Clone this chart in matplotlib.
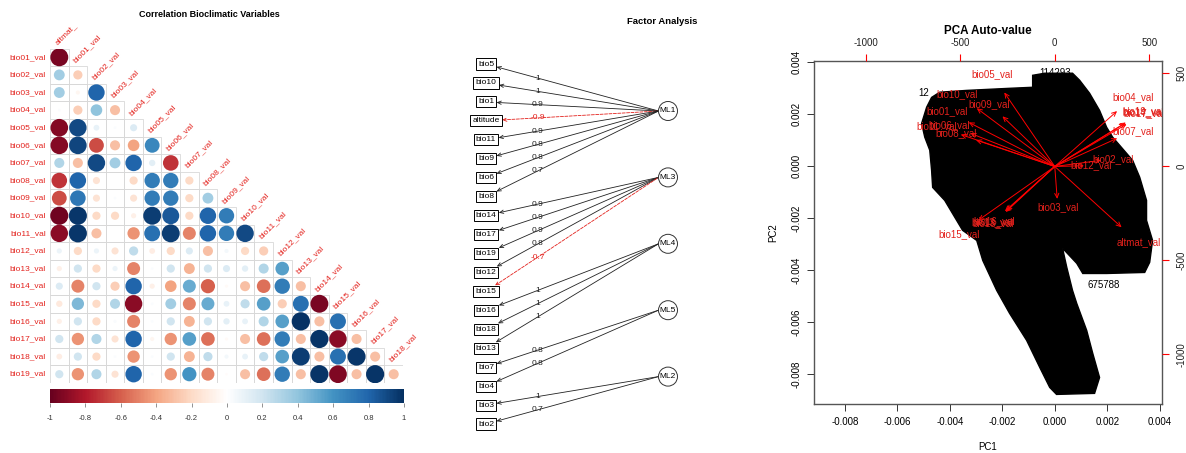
import numpy as np
import matplotlib
matplotlib.use('Agg')
import matplotlib.pyplot as plt
from matplotlib.colors import LinearSegmentedColormap, Normalize
from matplotlib.cm import ScalarMappable
from matplotlib.patches import Rectangle, Circle

plt.rcParams['font.family'] = ['Liberation Sans', 'DejaVu Sans']
plt.rcParams['axes.unicode_minus'] = False

W, H = 1186, 453
RED = '#e3211c'

# ---- correlation plot data (lower triangle, no diagonal) ----
col_labels = ['altmat_'] + ['bio%02d_val' % k for k in range(1, 19)]
row_labels = ['bio%02d_val' % k for k in range(1, 20)]
corr_rows = [
    [-0.95],
    [0.35, -0.25],
    [0.35, -0.05, 0.80],
    [0.02, -0.25, 0.40, -0.30],
    [-0.92, 0.90, 0.10, 0.02, 0.15],
    [-0.92, 0.92, -0.65, -0.30, -0.40, 0.65],
    [0.30, -0.30, 0.90, 0.35, 0.80, 0.12, -0.72],
    [-0.72, 0.80, -0.15, 0.00, -0.20, 0.70, 0.70, -0.20],
    [-0.65, 0.72, -0.15, 0.02, -0.15, 0.70, 0.70, -0.20, 0.35],
    [-0.97, 0.97, -0.20, -0.20, -0.08, 0.95, 0.85, -0.20, 0.80, 0.70],
    [-0.90, 0.97, -0.30, 0.00, -0.45, 0.75, 0.95, -0.50, 0.80, 0.70, 0.90],
    [0.08, -0.20, 0.08, -0.15, 0.25, -0.10, -0.20, 0.15, -0.30, 0.05, -0.20, -0.25],
    [-0.08, 0.20, -0.20, 0.08, -0.50, 0.02, 0.20, -0.35, 0.20, 0.15, 0.12, 0.30, 0.55],
    [0.15, -0.50, 0.20, -0.25, 0.80, -0.08, -0.40, 0.50, -0.60, -0.03, -0.30, -0.55, 0.70, -0.30],
    [-0.12, 0.45, -0.20, 0.30, -0.90, 0.02, 0.35, -0.50, 0.50, 0.10, 0.25, 0.55, -0.25, 0.75, -0.95],
    [-0.08, 0.20, -0.20, 0.03, -0.50, 0.02, 0.20, -0.35, 0.20, 0.12, 0.10, 0.30, 0.55, 0.99, -0.30, 0.75],
    [0.20, -0.45, 0.30, -0.15, 0.80, -0.05, -0.45, 0.55, -0.55, -0.03, -0.30, -0.55, 0.70, -0.30, 0.98, -0.90, -0.30],
    [-0.10, 0.20, -0.20, 0.02, -0.45, 0.02, 0.20, -0.35, 0.25, 0.05, 0.10, 0.25, 0.55, 0.95, -0.30, 0.75, 0.97, -0.30],
    [0.20, -0.45, 0.30, -0.15, 0.80, 0.02, -0.45, 0.60, -0.50, -0.02, -0.30, -0.55, 0.70, -0.30, 0.98, -0.93, -0.30, 0.98, -0.30],
]
col2 = ["#67001F", "#B2182B", "#D6604D", "#F4A582", "#FDDBC7", "#FFFFFF",
        "#D1E5F0", "#92C5DE", "#4393C3", "#2166AC", "#053061"]

# ---- factor analysis data ----
fa_vars = ['bio5', 'bio10', 'bio1', 'altitude', 'bio11', 'bio9', 'bio6', 'bio8',
           'bio14', 'bio17', 'bio19', 'bio12', 'bio15',
           'bio16', 'bio18', 'bio13', 'bio7', 'bio4', 'bio3', 'bio2']
fa_loadings = [1, 1, 0.9, -0.9, 0.9, 0.8, 0.8, 0.7,
               0.9, 0.9, 0.9, 0.8, -0.7,
               1, 1, 1, 0.8, 0.8, 1, 0.7]
fa_factor = ['ML1'] * 8 + ['ML3'] * 5 + ['ML4'] * 3 + ['ML5'] * 2 + ['ML2'] * 2
factors = ['ML1', 'ML3', 'ML4', 'ML5', 'ML2']

# ---- PCA biplot data ----
pca_vars = ['altmat_val', 'bio01_val', 'bio02_val', 'bio03_val', 'bio04_val', 'bio05_val',
            'bio06_val', 'bio07_val', 'bio08_val', 'bio09_val', 'bio10_val', 'bio11_val',
            'bio12_val', 'bio13_val', 'bio14_val', 'bio15_val', 'bio16_val', 'bio17_val',
            'bio18_val', 'bio19_val']
pca_load_x = [442, -569, 307, 16, 412, -334, -558, 413, -521, -346, -516, -622,
              193, -330, 465, -505, -320, 475, -325, 470]
pca_load_y = [-405, 294, 41, -216, 369, 493, 221, 188, 176, 334, 388, 213,
              5, -298, 287, -358, -293, 282, -303, 293]
# outline of the (overplotted) observation cloud
blob_pc1 = [-0.00085, -0.00085, -0.00039, 0.00067, 0.00094, 0.00132, 0.00170, 0.00197,
            0.00220, 0.00296, 0.00323, 0.00349, 0.00349, 0.00372, 0.00361, 0.00342,
            0.00197, 0.00106, 0.00083, 0.00029, 0.00045, 0.00067, 0.00083, 0.00121,
            0.00144, 0.00170, 0.00151, 0.00006, -0.00020, -0.00058, -0.00108, -0.00173,
            -0.00222, -0.00275, -0.00298, -0.00352, -0.00420, -0.00466, -0.00470, -0.00477,
            -0.00496, -0.00508, -0.00489, -0.00470, -0.00439, -0.00336, -0.00173]
blob_pc2 = [0.00304, 0.00350, 0.00358, 0.00358, 0.00331, 0.00281, 0.00215, 0.00150,
            0.00112, 0.00023, -0.00042, -0.00131, -0.00208, -0.00285, -0.00369, -0.00408,
            -0.00412, -0.00412, -0.00373, -0.00315, -0.00388, -0.00477, -0.00527, -0.00631,
            -0.00719, -0.00812, -0.00873, -0.00877, -0.00850, -0.00773, -0.00669, -0.00565,
            -0.00477, -0.00362, -0.00285, -0.00246, -0.00131, -0.00081, -0.00015, 0.00062,
            0.00112, 0.00165, 0.00227, 0.00265, 0.00285, 0.00292, 0.00300]
obs_labels = ['675788', '114293', '12']
obs_pc1 = [0.00186, 0.00002, -0.00500]
obs_pc2 = [-0.00458, 0.00358, 0.00281]


def px_rect(x0, y0, x1, y1):
    return [x0 / W, 1 - y1 / H, (x1 - x0) / W, (y1 - y0) / H]


fig = plt.figure(figsize=(W / 100, H / 100), dpi=100)

# ================= correlation plot =================
ax1 = fig.add_axes(px_rect(50, 48.5, 403, 383))
n = len(row_labels)
ax1.set_xlim(-0.5, n - 0.5)
ax1.set_ylim(n - 0.5, -0.5)
ax1.axis('off')
cmap = LinearSegmentedColormap.from_list('corr_rdbu', col2)
norm = Normalize(-1, 1)
xs, ys, vals = [], [], []
for i, row in enumerate(corr_rows):
    for j, r in enumerate(row):
        ax1.add_patch(Rectangle((j - 0.5, i - 0.5), 1, 1, fc='none', ec='#d8d8d8', lw=0.6))
        xs.append(j)
        ys.append(i)
        vals.append(r)
vals = np.array(vals)
ax1.scatter(xs, ys, s=175 * np.abs(vals), c=cmap(norm(vals)), edgecolors='none', zorder=3)
for i, lab in enumerate(row_labels):
    ax1.text(-0.72, i, lab, ha='right', va='center', fontsize=6, color=RED)
for j, lab in enumerate(col_labels):
    ax1.text(j - 0.05, j - 0.62, lab, ha='left', va='bottom', rotation=45,
             rotation_mode='anchor', fontsize=6, color=RED)

cax = fig.add_axes(px_rect(50, 389, 404, 403))
cb = fig.colorbar(ScalarMappable(norm, cmap), cax=cax, orientation='horizontal')
cb.outline.set_visible(False)
cb_ticks = np.round(np.linspace(-1, 1, 11), 1)
cb.set_ticks(cb_ticks)
cb.set_ticklabels(['%g' % (t if t != 0 else 0) for t in cb_ticks])
cb.ax.tick_params(length=3, width=0.5, color='#666666', labelsize=5.5,
                  labelcolor='#333333', pad=6)

# ================= PCA biplot =================
rect3 = px_rect(814, 61, 1162.3, 404.3)
ax3 = fig.add_axes(rect3)
ax3.set_xlim(-0.00918, 0.00409)
ax3.set_ylim(-0.00915, 0.00405)
ax3.fill(blob_pc1, blob_pc2, color='black', lw=1.0)
for lab, x, y in zip(obs_labels, obs_pc1, obs_pc2):
    ax3.text(x, y, lab, ha='center', va='center', fontsize=7, color='black', clip_on=True)
ticks = np.round(np.arange(-0.008, 0.0041, 0.002), 3)
tlabs = [('%.3f' % t).replace('-0.000', '0.000') for t in ticks]
ax3.set_xticks(ticks)
ax3.set_xticklabels(tlabs)
ax3.set_yticks(ticks)
ax3.set_yticklabels(tlabs)
ax3.tick_params(axis='both', length=5, width=0.7, labelsize=7, color='#333333')
ax3.tick_params(axis='x', pad=4)
ax3.tick_params(axis='y', pad=4, labelrotation=90)
for lbl in ax3.get_yticklabels():
    lbl.set_va('center')
for s in ax3.spines.values():
    s.set_color('#555555')
    s.set_linewidth(1.0)

ax3t = fig.add_axes(rect3)
ax3t.patch.set_visible(False)
ax3t.set_xlim(-1274, 569)
ax3t.set_ylim(-1267, 562)
ax3t.xaxis.tick_top()
ax3t.yaxis.tick_right()
ax3t.set_xticks([-1000, -500, 0, 500])
ax3t.set_yticks([-1000, -500, 0, 500])
ax3t.tick_params(axis='both', length=5, width=0.8, color='red', labelsize=7, labelcolor='#222222')
ax3t.tick_params(axis='x', pad=4)
ax3t.tick_params(axis='y', pad=5.5, labelrotation=90)
for lbl in ax3t.get_yticklabels():
    lbl.set_va('center')
for s in ax3t.spines.values():
    s.set_visible(False)
for lab, x, y in zip(pca_vars, pca_load_x, pca_load_y):
    ax3t.annotate('', xy=(0.8 * x, 0.8 * y), xytext=(0, 0),
                  arrowprops=dict(arrowstyle='->,head_length=0.32,head_width=0.15',
                                  color='red', lw=0.7, shrinkA=0, shrinkB=0))
    ax3t.text(x, y, lab, ha='center', va='center', fontsize=7, color=RED, clip_on=True)

# ================= overlay: factor diagram + titles =================
ov = fig.add_axes([0, 0, 1, 1])
ov.set_xlim(0, W)
ov.set_ylim(H, 0)
ov.axis('off')

box_x, circ_x, circ_r = 486, 668, 9.5
fac_y = {f: 111 + 66.4 * k for k, f in enumerate(factors)}
for i, (name, load, f) in enumerate(zip(fa_vars, fa_loadings, fa_factor)):
    by = 64 + 18.95 * i
    neg = load < 0
    col = RED if neg else '#222222'
    fx, fy = circ_x - circ_r, fac_y[f]
    ov.annotate(name, xy=(fx, fy), xytext=(box_x, by), ha='center', va='center', fontsize=6,
                bbox=dict(boxstyle='square,pad=0.25', fc='white', ec='black', lw=0.7),
                arrowprops=dict(arrowstyle='<-,head_length=0.45,head_width=0.2', color=col,
                                lw=0.6, ls='--' if neg else '-', shrinkA=0, shrinkB=0))
    lx = box_x + 0.3 * (fx - box_x)
    ly = by + 0.3 * (fy - by)
    ov.text(lx, ly, '%g' % load, ha='center', va='center', fontsize=6, color=col)
for f in factors:
    ov.add_patch(Circle((circ_x, fac_y[f]), circ_r, fc='white', ec='#333333', lw=0.7, zorder=3))
    ov.text(circ_x, fac_y[f], f, ha='center', va='center', fontsize=6, zorder=4)

ov.text(209, 14.5, 'Correlation Bioclimatic Variables', ha='center', va='center',
        fontsize=6.5, fontweight='bold')
ov.text(662, 22, 'Factor Analysis', ha='center', va='center', fontsize=6.8, fontweight='bold')
ov.text(988, 31, 'PCA Auto-value', ha='center', va='center', fontsize=8.4, fontweight='bold')
ov.text(988, 447, 'PC1', ha='center', va='center', fontsize=7)
ov.text(773, 233, 'PC2', ha='center', va='center', fontsize=7, rotation=90)

fig.savefig('out.png', dpi=100)
